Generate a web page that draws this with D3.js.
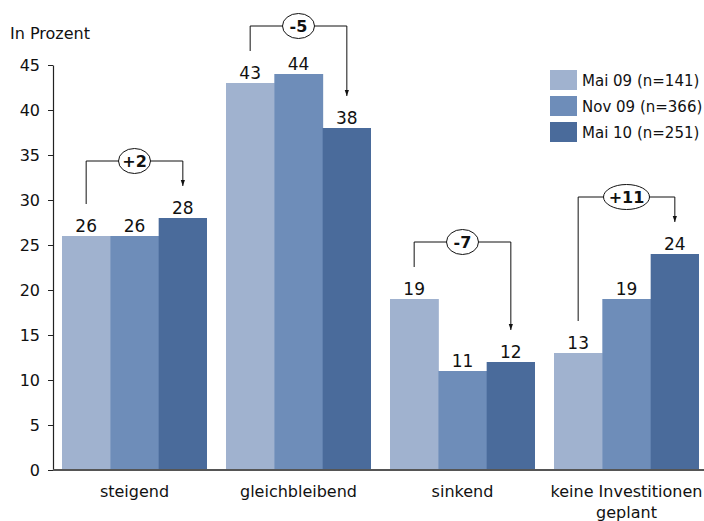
<!DOCTYPE html>
<html>
<head>
<meta charset="utf-8">
<script src="https://cdn.jsdelivr.net/npm/d3@7"></script>
<style>
  html, body { margin: 0; padding: 0; background: #fff; }
  svg { display: block; font-family: "DejaVu Sans", Verdana, sans-serif; }
</style>
</head>
<body>
<svg id="chart" width="704" height="521"></svg>
<script>
// Investment expectations by survey wave
const categories = ["steigend", "gleichbleibend", "sinkend", "keine Investitionen geplant"];
const categoryLines = [["steigend"], ["gleichbleibend"], ["sinkend"], ["keine Investitionen", "geplant"]];
const seriesNames = ["Mai 09 (n=141)", "Nov 09 (n=366)", "Mai 10 (n=251)"];
const mai09 = [26, 43, 19, 13];
const nov09 = [26, 44, 11, 19];
const mai10 = [28, 38, 12, 24];
const yTicks = [0, 5, 10, 15, 20, 25, 30, 35, 40, 45];
const colors = ["#a0b2cf", "#6e8db9", "#4a6b9b"];

const series = [mai09, nov09, mai10];

const svg = d3.select("#chart");

const x = d3.scaleBand()
  .domain(categories)
  .range([52.5, 708.5])
  .paddingInner(19 / 164)
  .paddingOuter(19 / 328);

const xInner = d3.scaleBand()
  .domain(d3.range(series.length))
  .range([0, x.bandwidth()]);

const y = d3.scaleLinear().domain([0, 45]).range([470, 65]);

// Bars with value labels
categories.forEach((cat, ci) => {
  const g = svg.append("g").attr("transform", `translate(${x(cat)},0)`);
  series.forEach((vals, si) => {
    g.append("rect")
      .attr("x", xInner(si))
      .attr("y", y(vals[ci]))
      .attr("width", xInner.bandwidth() + (si < series.length - 1 ? 0.5 : 0))
      .attr("height", y(0) - y(vals[ci]))
      .attr("fill", colors[si]);
    g.append("text")
      .attr("x", xInner(si) + xInner.bandwidth() / 2)
      .attr("y", y(vals[ci]) - 4)
      .attr("text-anchor", "middle")
      .attr("font-size", 17)
      .attr("fill", "#111")
      .text(vals[ci]);
  });
});

// Y axis
const yAxis = svg.append("g")
  .attr("transform", "translate(53,0)")
  .call(d3.axisLeft(y).tickValues(yTicks).tickSize(5).tickPadding(8).tickSizeOuter(0));
yAxis.select(".domain").attr("stroke", "#222").attr("stroke-width", 1.2);
yAxis.selectAll(".tick line").attr("stroke", "#222");
yAxis.selectAll(".tick text")
  .attr("font-size", 16)
  .attr("fill", "#111")
  .attr("font-family", "DejaVu Sans, sans-serif");

// X axis baseline
svg.append("line")
  .attr("x1", 53).attr("x2", 704)
  .attr("y1", y(0)).attr("y2", y(0))
  .attr("stroke", "#555").attr("stroke-width", 2);

// Category labels
categories.forEach((cat, ci) => {
  const t = svg.append("text")
    .attr("x", x(cat) + x.bandwidth() / 2)
    .attr("y", 497)
    .attr("text-anchor", "middle")
    .attr("font-size", 16)
    .attr("fill", "#111");
  categoryLines[ci].forEach((line, li) => {
    t.append("tspan")
      .attr("x", x(cat) + x.bandwidth() / 2)
      .attr("dy", li === 0 ? 0 : 21)
      .text(line);
  });
});

// Unit label
svg.append("text")
  .attr("x", 10).attr("y", 39)
  .attr("font-size", 16)
  .attr("fill", "#111")
  .text("In Prozent");

// Change brackets: first wave -> latest wave
svg.append("defs").append("marker")
  .attr("id", "arrow")
  .attr("viewBox", "0 0 10 10")
  .attr("refX", 10).attr("refY", 5)
  .attr("markerWidth", 6).attr("markerHeight", 6)
  .attr("orient", "auto")
  .append("path")
  .attr("d", "M0,1.5 L10,5 L0,8.5 Z")
  .attr("fill", "#111");

categories.forEach((cat, ci) => {
  const first = mai09[ci], last = mai10[ci];
  const maxVal = Math.max(mai09[ci], nov09[ci], mai10[ci]);
  const x0 = x(cat) + xInner(0) + xInner.bandwidth() / 2;
  const xm = x(cat) + xInner(1) + xInner.bandwidth() / 2;
  const x1 = x(cat) + xInner(2) + xInner.bandwidth() / 2;
  const top = Math.max(26, y(maxVal) - 57);
  const startY = y(first) - 32;
  const endY = y(last) - 32;
  const diff = last - first;
  const label = (diff > 0 ? "+" : "") + diff;

  svg.append("path")
    .attr("d", `M${x0},${startY} V${top} H${x1} V${endY}`)
    .attr("fill", "none")
    .attr("stroke", "#111")
    .attr("stroke-width", 1)
    .attr("marker-end", "url(#arrow)");

  const rx = label.length > 2 ? 23 : 16;
  svg.append("ellipse")
    .attr("cx", xm).attr("cy", top)
    .attr("rx", rx).attr("ry", 12.5)
    .attr("fill", "#fff")
    .attr("stroke", "#111")
    .attr("stroke-width", 1);
  svg.append("text")
    .attr("x", xm).attr("y", top + 6)
    .attr("text-anchor", "middle")
    .attr("font-size", 16)
    .attr("font-weight", "bold")
    .attr("fill", "#111")
    .text(label);
});

// Legend
const legend = svg.append("g").attr("transform", "translate(550,70)");
seriesNames.forEach((name, i) => {
  const row = legend.append("g").attr("transform", `translate(0,${i * 26})`);
  row.append("rect").attr("width", 27).attr("height", 20).attr("fill", colors[i]);
  row.append("text")
    .attr("x", 32).attr("y", 16)
    .attr("font-size", 15)
    .attr("fill", "#111")
    .text(name);
});
</script>
</body>
</html>
